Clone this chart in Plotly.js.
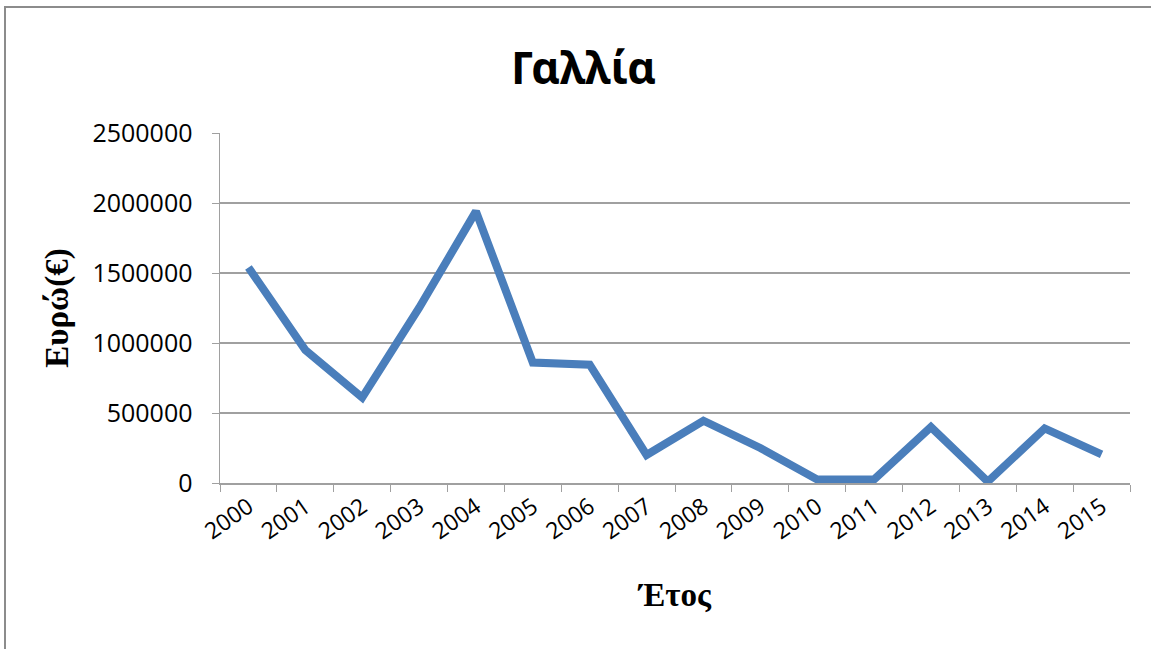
<!DOCTYPE html>
<html>
<head>
<meta charset="utf-8">
<script src="https://cdn.plot.ly/plotly-3.0.1.min.js"></script>
<style>
html,body{margin:0;padding:0;background:#fff;}
#wrap{position:relative;width:1151px;height:649px;overflow:hidden;}
#chart{position:absolute;left:0;top:0;width:1151px;height:649px;}
#frame{position:absolute;left:4px;top:6px;width:1200px;height:700px;border-left:2px solid #8c8c8c;border-top:2px solid #8c8c8c;pointer-events:none;}
</style>
</head>
<body>
<div id="wrap"><div id="chart"></div><div id="frame"></div></div>
<script>
const years = ['2000','2001','2002','2003','2004','2005','2006','2007','2008','2009','2010','2011','2012','2013','2014','2015'];
const euros = [1540000, 950000, 610000, 1250000, 1940000, 860000, 845000, 200000, 445000, 250000, 25000, 25000, 400000, 10000, 390000, 205000];
const chartTitle = 'Γαλλία';
const xTitle = 'Έτος';
const yTitle = 'Ευρώ(€)';

Plotly.newPlot('chart', [{
  x: years, y: euros, type: 'scatter', mode: 'lines',
  line: {color: '#4a7ebb', width: 8, shape: 'linear'},
  hoverinfo: 'skip'
}], {
  width: 1151, height: 649,
  margin: {l: 220, r: 21, t: 133, b: 166},
  paper_bgcolor: '#fff', plot_bgcolor: '#fff',
  showlegend: false,
  title: {text: chartTitle, x: 0.507, xanchor: 'center', y: 0.895, yanchor: 'middle',
          font: {family: 'Noto Sans', size: 44, color: '#000', weight: 'bold'}},
  xaxis: {
    type: 'category', range: [-0.5, 15.5], tickson: 'boundaries', ticks: 'outside', ticklen: 7, tickcolor: '#a0a0a0',
    showline: true, linecolor: '#a0a0a0', linewidth: 1.5, showgrid: false, zeroline: false,
    tickangle: -35, tickfont: {family: 'Open Sans', size: 23, color: '#000'},
    title: {text: xTitle, standoff: 38, font: {family: 'Liberation Serif', size: 33, color: '#000', weight: 'bold'}}
  },
  yaxis: {
    range: [0, 2500000], dtick: 500000, tickformat: 'd', ticks: 'outside', ticklen: 7, tickcolor: '#a0a0a0',
    showline: true, linecolor: '#a0a0a0', linewidth: 1.5, showgrid: true, gridcolor: '#a0a0a0', gridwidth: 1.3,
    zeroline: false, tickfont: {family: 'Open Sans', size: 25, color: '#000'}, ticklabelstandoff: 14,
    title: {text: yTitle, standoff: 14, font: {family: 'Liberation Serif', size: 33, color: '#000', weight: 'bold'}}
  }
}, {displayModeBar: false, staticPlot: true});
</script>
</body>
</html>
